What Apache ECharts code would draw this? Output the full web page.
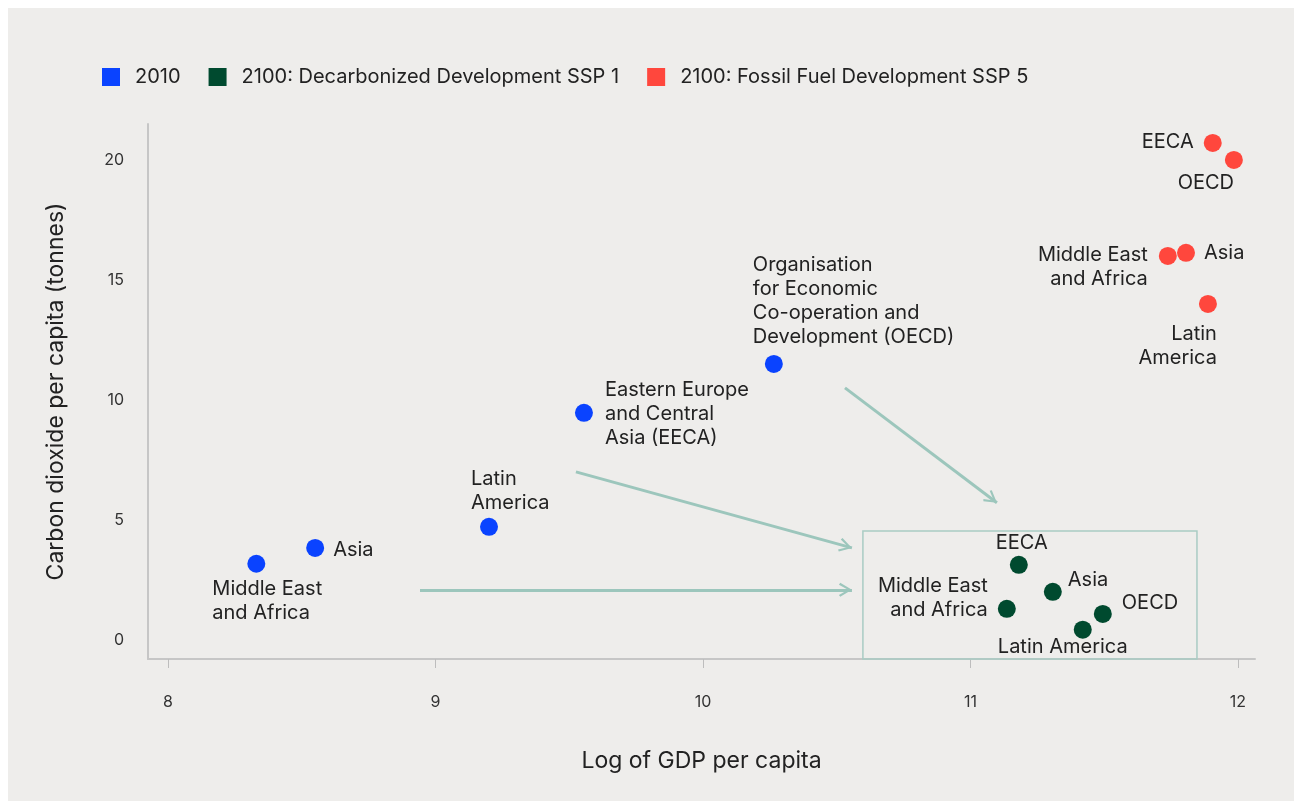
<!DOCTYPE html>
<html>
<head>
<meta charset="utf-8">
<script src="https://cdn.jsdelivr.net/npm/echarts@6/dist/echarts.min.js"></script>
<style>
  html, body { margin: 0; padding: 0; background: #ffffff; }
  #chart { position: absolute; left: 8px; top: 8px; width: 1286px; height: 793px; background: #eeedeb; }
</style>
</head>
<body>
<div id="chart"></div>
<script>
// ================= data =================
const seriesNames = ['2010', '2100: Decarbonized Development SSP 1', '2100: Fossil Fuel Development SSP 5']
const regions = ['Middle East and Africa', 'Asia', 'Latin America', 'EECA', 'OECD']

const gdp2010 = [8.33, 8.55, 9.20, 9.555, 10.265]
const co2_2010 = [3.17, 3.83, 4.71, 9.46, 11.5]
const gdpSsp1 = [11.136, 11.308, 11.42, 11.181, 11.495]
const co2Ssp1 = [1.29, 2.0, 0.42, 3.125, 1.08]
const gdpSsp5 = [11.738, 11.806, 11.888, 11.906, 11.985]
const co2Ssp5 = [16.0, 16.13, 14.0, 20.71, 20.0]

const labels2010 = ['Middle East\nand Africa', 'Asia', 'Latin\nAmerica', 'Eastern Europe\nand Central\nAsia (EECA)', 'Organisation\nfor Economic\nCo-operation and\nDevelopment (OECD)']
const labelsSsp1 = ['Middle East\nand Africa', 'Asia', 'Latin America', 'EECA', 'OECD']
const labelsSsp5 = ['Middle East\nand Africa', 'Asia', 'Latin\nAmerica', 'EECA', 'OECD']

const xTicks = [8, 9, 10, 11, 12]
const yTicks = [0, 5, 10, 15, 20]

// annotation arrows (from -> to, data units) and box
const arrowFrom = [[8.942, 2.083], [9.525, 7.0], [10.531, 10.5]]
const arrowTo = [[10.557, 2.083], [10.557, 3.83], [11.099, 5.71]]
const boxCorners = [[10.598, -0.8], [11.847, 4.54]]

// ================= label placement (px from marker centre) =================
const place2010 = [[-44, 37, 'left'], [18, 2, 'left'], [-18, -36, 'left'], [21, 1, 'left'], [-21, -63, 'left']]
const placeSsp1 = [[-19, -11, 'right'], [15, -12, 'left'], [-20, 17, 'center'], [3, -22, 'center'], [19, -11, 'left']]
const placeSsp5 = [[-20, 11, 'right'], [18, 0, 'left'], [9, 42, 'right'], [-19, -1, 'right'], [-28, 23, 'center']]

const colors = ['#0a43ff', '#004a2f', '#ff473d']
const FONT = 'Inter, "Open Sans", sans-serif'
const TEXT = '#222222'
const ARROW = '#9cc6bc'
const SYM = 18

const buildData = (xs, ys, texts, places) =>
  xs.map((x, i) => ({
    name: regions[i],
    value: [x, ys[i]],
    label: {
      show: true,
      formatter: texts[i],
      position: [SYM / 2 + places[i][0], SYM / 2 + places[i][1]],
      align: places[i][2],
      verticalAlign: 'middle',
      fontFamily: FONT,
      fontSize: 20,
      lineHeight: 24,
      color: TEXT
    }
  }))

// chevron arrow head, apex at symbol centre
const chevron = 'path://M5,0 L5.02,0 L5,0.02 Z M5,10 L10,19 L8.7,20 L5,13 L1.3,20 L0,19 Z'

const chart = echarts.init(document.getElementById('chart'), null, { renderer: 'canvas' })

const option = {
  backgroundColor: '#eeedeb',
  animation: false,
  textStyle: { fontFamily: FONT },
  legend: {
    data: seriesNames,
    left: 89,
    top: 54,
    itemWidth: 18,
    itemHeight: 18,
    itemGap: 28,
    icon: 'rect',
    selectedMode: false,
    textStyle: { fontFamily: FONT, fontSize: 20, color: TEXT, padding: [0, 0, 0, 10] }
  },
  grid: { left: 140, top: 116, right: 39, bottom: 142 },
  xAxis: {
    type: 'value',
    min: 7.925,
    max: 12.064,
    name: 'Log of GDP per capita',
    nameLocation: 'middle',
    nameGap: 91,
    nameTextStyle: { fontFamily: FONT, fontSize: 23, color: TEXT, verticalAlign: 'top' },
    axisLine: { show: true, onZero: false, lineStyle: { color: '#c6c6c6', width: 2 } },
    axisTick: { show: true, customValues: xTicks, length: 9, lineStyle: { color: '#bdbdbd' } },
    axisLabel: { customValues: xTicks, margin: 35, fontFamily: FONT, fontSize: 16, color: '#333' },
    splitLine: { show: false }
  },
  yAxis: {
    type: 'value',
    min: -0.8,
    max: 21.5,
    name: 'Carbon dioxide per capita (tonnes)',
    nameLocation: 'middle',
    nameGap: 80,
    nameTextStyle: { fontFamily: FONT, fontSize: 23, color: TEXT },
    axisLine: { show: true, onZero: false, lineStyle: { color: '#c6c6c6', width: 2 } },
    axisTick: { show: false },
    axisLabel: { customValues: yTicks, margin: 24, fontFamily: FONT, fontSize: 16, color: '#333' },
    splitLine: { show: false }
  },
  series: [
    {
      name: seriesNames[0],
      type: 'scatter',
      symbolSize: SYM,
      itemStyle: { color: colors[0], opacity: 1 },
      data: buildData(gdp2010, co2_2010, labels2010, place2010),
      z: 3
    },
    {
      name: seriesNames[1],
      type: 'scatter',
      symbolSize: SYM,
      itemStyle: { color: colors[1], opacity: 1 },
      data: buildData(gdpSsp1, co2Ssp1, labelsSsp1, placeSsp1),
      z: 3
    },
    {
      name: seriesNames[2],
      type: 'scatter',
      symbolSize: SYM,
      itemStyle: { color: colors[2], opacity: 1 },
      data: buildData(gdpSsp5, co2Ssp5, labelsSsp5, placeSsp5),
      z: 3
    },
    {
      name: 'annotations',
      type: 'scatter',
      data: [],
      silent: true,
      z: 1,
      markArea: {
        silent: true,
        itemStyle: { color: 'rgba(0,0,0,0)', borderColor: '#a9ccc4', borderWidth: 1.5 },
        data: [[{ coord: boxCorners[0] }, { coord: boxCorners[1] }]]
      },
      markLine: {
        silent: true,
        symbol: ['none', chevron],
        symbolSize: [14, 26],
        label: { show: false },
        lineStyle: { color: ARROW, width: 3, type: 'solid' },
        data: arrowFrom.map((p, i) => [{ coord: p }, { coord: arrowTo[i] }])
      }
    }
  ]
}

chart.setOption(option)
</script>
</body>
</html>
